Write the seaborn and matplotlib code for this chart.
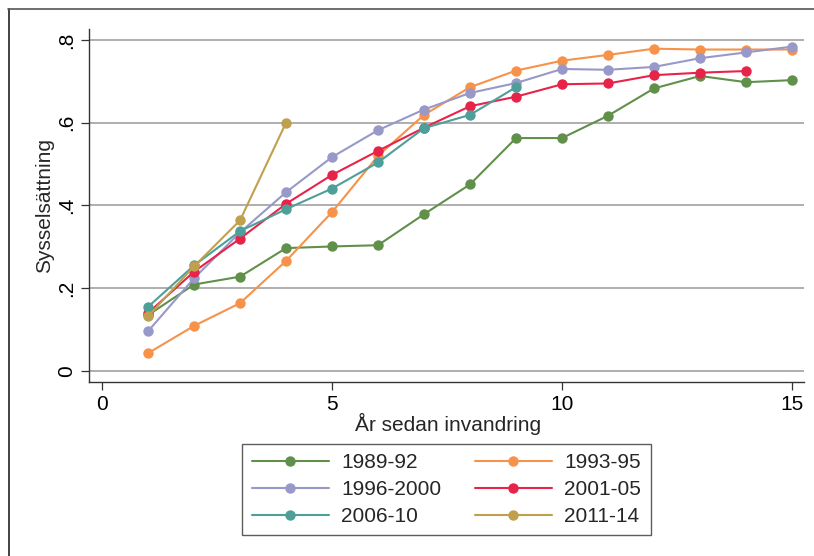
import numpy as np
import pandas as pd
import matplotlib.pyplot as plt
from matplotlib.lines import Line2D
import seaborn as sns

# values
cohorts = ['1989-92', '1993-95', '1996-2000', '2001-05', '2006-10', '2011-14']
colors = ['#60904A', '#F7924A', '#9898C9', '#E8234A', '#4E9F99', '#C0A04E']

years_89 = list(range(1, 16))
emp_89 = [0.135, 0.209, 0.228, 0.297, 0.301, 0.304, 0.379, 0.451, 0.563, 0.563,
          0.617, 0.683, 0.713, 0.698, 0.703]

years_93 = list(range(1, 16))
emp_93 = [0.043, 0.109, 0.164, 0.266, 0.384, 0.520, 0.619, 0.686, 0.726, 0.750,
          0.764, 0.779, 0.777, 0.777, 0.777]

years_96 = list(range(1, 16))
emp_96 = [0.096, 0.224, 0.335, 0.432, 0.517, 0.582, 0.632, 0.672, 0.696, 0.730,
          0.728, 0.735, 0.756, 0.770, 0.784]

years_01 = list(range(1, 15))
emp_01 = [0.140, 0.240, 0.320, 0.404, 0.474, 0.532, 0.588, 0.640, 0.663, 0.693,
          0.695, 0.715, 0.721, 0.725]

years_06 = list(range(1, 10))
emp_06 = [0.155, 0.255, 0.338, 0.391, 0.441, 0.504, 0.587, 0.619, 0.686]

years_11 = [1, 2, 3, 4]
emp_11 = [0.132, 0.253, 0.364, 0.600]

all_years = [years_89, years_93, years_96, years_01, years_06, years_11]
all_emp = [emp_89, emp_93, emp_96, emp_01, emp_06, emp_11]

frames = []
for c, yrs, vals in zip(cohorts, all_years, all_emp):
    frames.append(pd.DataFrame({'ar': yrs, 'syss': vals, 'kohort': c}))
df = pd.concat(frames, ignore_index=True)

sns.set_style('white')
plt.rcParams['font.family'] = ['Liberation Sans', 'DejaVu Sans']

fig = plt.figure(figsize=(8.14, 5.56), dpi=100)
W, H = 814, 556
left, right, top, bottom = 89, 804, 29, 382
ax = fig.add_axes([left / W, 1 - bottom / H, (right - left) / W, (bottom - top) / H])

sns.lineplot(data=df, x='ar', y='syss', hue='kohort', hue_order=cohorts,
             palette=colors, marker='o', markersize=7.5, markeredgewidth=0,
             linewidth=1.5, legend=False, ax=ax)

ax.set_xlim(-0.283, 15.26)
ax.set_ylim(-0.0266, 0.8266)
ax.set_xticks([0, 5, 10, 15])
ax.set_yticks([0, 0.2, 0.4, 0.6, 0.8])
ax.set_yticklabels(['0', '.2', '.4', '.6', '.8'])
for y in [0, 0.2, 0.4, 0.6, 0.8]:
    ax.axhline(y, color='#A8A8A8', lw=1.3, zorder=0)

for s in ['top', 'right']:
    ax.spines[s].set_visible(False)
for s in ['left', 'bottom']:
    ax.spines[s].set_color('#333333')
    ax.spines[s].set_linewidth(1.0)

fs = 15
ax.tick_params(axis='both', direction='out', length=6, width=0.9, color='#333333',
               labelsize=fs, labelcolor='black', bottom=True, left=True)
ax.tick_params(axis='y', labelrotation=90, pad=3)
ax.tick_params(axis='x', pad=3)
for lab in ax.get_yticklabels():
    lab.set_va('center')

ax.set_xlabel('År sedan invandring', fontsize=fs)
ax.set_ylabel('Sysselsättning', fontsize=fs)
ax.xaxis.set_label_coords(0.502, -0.119)
ax.xaxis.label.set_va('center')
ax.yaxis.set_label_coords(-0.0615, 0.5)
ax.yaxis.label.set_va('center')

handles = [Line2D([], [], color=c, marker='o', markersize=7.5, markeredgewidth=0,
                  linewidth=1.5) for c in colors]
order = [0, 2, 4, 1, 3, 5]
leg = fig.legend([handles[i] for i in order], [cohorts[i] for i in order],
                 ncol=2, loc='center', bbox_to_anchor=(0.5485, 0.1196),
                 fontsize=fs, frameon=True, fancybox=False, edgecolor='#333333',
                 handlelength=3.7, handletextpad=0.6, columnspacing=1.6,
                 labelspacing=0.38, borderpad=0.45)
leg.get_frame().set_linewidth(1.0)

# outer frame (only left and top edges are visible)
fig.add_artist(Line2D([8.5 / W, 8.5 / W], [0, 1 - 9 / H], color='#222222', lw=1.2,
                      transform=fig.transFigure))
fig.add_artist(Line2D([8 / W, 1], [1 - 9 / H, 1 - 9 / H], color='#555555', lw=1.2,
                      transform=fig.transFigure))

fig.savefig('out.png', dpi=100)
